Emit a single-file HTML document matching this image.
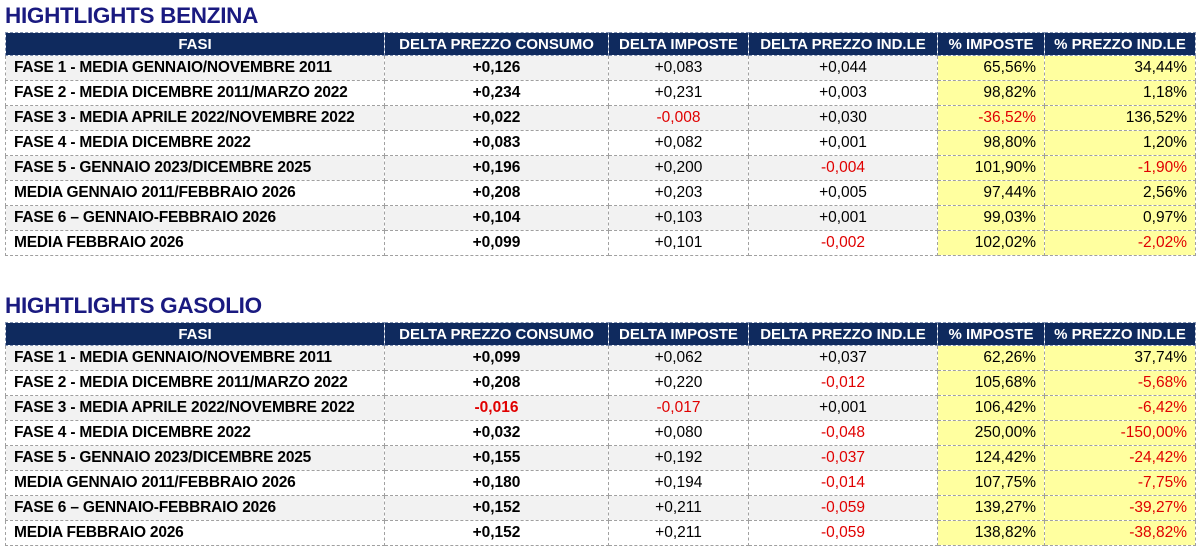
<!DOCTYPE html>
<html><head><meta charset="utf-8"><style>
body{margin:0;background:#fff;width:1200px;height:557px;overflow:hidden;font-family:"Liberation Sans",sans-serif;position:relative}
h1{position:absolute;left:5px;margin:0;font-size:22.5px;font-weight:bold;color:#1a1a80;letter-spacing:-0.3px;line-height:24px}
table{position:absolute;left:5px;border-collapse:collapse;table-layout:fixed;font-size:15.5px}
td,th{border:1px dashed #a0a0a0;padding:0 8px;white-space:nowrap;overflow:hidden;height:24px;box-sizing:border-box}
th{background:#0f2a5e;color:#fff;height:23px;text-align:center;font-size:15px;border-color:#8090b0}
td.l{font-weight:bold;text-align:left;letter-spacing:-0.2px}
td.c{text-align:center;font-weight:bold}
td.n{text-align:center}
td.y{background:#ffff9f;text-align:right}
tr.g td{background:#f2f2f2}
tr.g td.y{background:#ffff9f}
.r{color:#e00000}
</style></head><body>
<h1 style="top:4px">HIGHTLIGHTS BENZINA</h1>
<table style="top:32px;width:1190px">
<colgroup><col style="width:379px"><col style="width:224px"><col style="width:140px"><col style="width:189px"><col style="width:107px"><col style="width:151px"></colgroup>
<tr><th>FASI</th><th>DELTA PREZZO CONSUMO</th><th>DELTA IMPOSTE</th><th>DELTA PREZZO IND.LE</th><th>% IMPOSTE</th><th>% PREZZO IND.LE</th></tr>
<tr class="g" style="height:25px"><td class="l">FASE 1 - MEDIA GENNAIO/NOVEMBRE 2011</td><td class="c">+0,126</td><td class="n">+0,083</td><td class="n">+0,044</td><td class="y">65,56%</td><td class="y">34,44%</td></tr>
<tr style="height:25px"><td class="l">FASE 2 - MEDIA DICEMBRE 2011/MARZO 2022</td><td class="c">+0,234</td><td class="n">+0,231</td><td class="n">+0,003</td><td class="y">98,82%</td><td class="y">1,18%</td></tr>
<tr class="g" style="height:25px"><td class="l">FASE 3 - MEDIA APRILE 2022/NOVEMBRE 2022</td><td class="c">+0,022</td><td class="n r">-0,008</td><td class="n">+0,030</td><td class="y r">-36,52%</td><td class="y">136,52%</td></tr>
<tr style="height:25px"><td class="l">FASE 4 - MEDIA DICEMBRE 2022</td><td class="c">+0,083</td><td class="n">+0,082</td><td class="n">+0,001</td><td class="y">98,80%</td><td class="y">1,20%</td></tr>
<tr class="g" style="height:25px"><td class="l">FASE 5 - GENNAIO 2023/DICEMBRE 2025</td><td class="c">+0,196</td><td class="n">+0,200</td><td class="n r">-0,004</td><td class="y">101,90%</td><td class="y r">-1,90%</td></tr>
<tr style="height:25px"><td class="l">MEDIA GENNAIO 2011/FEBBRAIO 2026</td><td class="c">+0,208</td><td class="n">+0,203</td><td class="n">+0,005</td><td class="y">97,44%</td><td class="y">2,56%</td></tr>
<tr class="g" style="height:25px"><td class="l">FASE 6 – GENNAIO-FEBBRAIO 2026</td><td class="c">+0,104</td><td class="n">+0,103</td><td class="n">+0,001</td><td class="y">99,03%</td><td class="y">0,97%</td></tr>
<tr style="height:25px"><td class="l">MEDIA FEBBRAIO 2026</td><td class="c">+0,099</td><td class="n">+0,101</td><td class="n r">-0,002</td><td class="y">102,02%</td><td class="y r">-2,02%</td></tr>
</table>
<h1 style="top:294px">HIGHTLIGHTS GASOLIO</h1>
<table style="top:322px;width:1190px">
<colgroup><col style="width:379px"><col style="width:224px"><col style="width:140px"><col style="width:189px"><col style="width:107px"><col style="width:151px"></colgroup>
<tr><th>FASI</th><th>DELTA PREZZO CONSUMO</th><th>DELTA IMPOSTE</th><th>DELTA PREZZO IND.LE</th><th>% IMPOSTE</th><th>% PREZZO IND.LE</th></tr>
<tr class="g" style="height:25px"><td class="l">FASE 1 - MEDIA GENNAIO/NOVEMBRE 2011</td><td class="c">+0,099</td><td class="n">+0,062</td><td class="n">+0,037</td><td class="y">62,26%</td><td class="y">37,74%</td></tr>
<tr style="height:25px"><td class="l">FASE 2 - MEDIA DICEMBRE 2011/MARZO 2022</td><td class="c">+0,208</td><td class="n">+0,220</td><td class="n r">-0,012</td><td class="y">105,68%</td><td class="y r">-5,68%</td></tr>
<tr class="g" style="height:25px"><td class="l">FASE 3 - MEDIA APRILE 2022/NOVEMBRE 2022</td><td class="c r">-0,016</td><td class="n r">-0,017</td><td class="n">+0,001</td><td class="y">106,42%</td><td class="y r">-6,42%</td></tr>
<tr style="height:25px"><td class="l">FASE 4 - MEDIA DICEMBRE 2022</td><td class="c">+0,032</td><td class="n">+0,080</td><td class="n r">-0,048</td><td class="y">250,00%</td><td class="y r">-150,00%</td></tr>
<tr class="g" style="height:25px"><td class="l">FASE 5 - GENNAIO 2023/DICEMBRE 2025</td><td class="c">+0,155</td><td class="n">+0,192</td><td class="n r">-0,037</td><td class="y">124,42%</td><td class="y r">-24,42%</td></tr>
<tr style="height:25px"><td class="l">MEDIA GENNAIO 2011/FEBBRAIO 2026</td><td class="c">+0,180</td><td class="n">+0,194</td><td class="n r">-0,014</td><td class="y">107,75%</td><td class="y r">-7,75%</td></tr>
<tr class="g" style="height:25px"><td class="l">FASE 6 – GENNAIO-FEBBRAIO 2026</td><td class="c">+0,152</td><td class="n">+0,211</td><td class="n r">-0,059</td><td class="y">139,27%</td><td class="y r">-39,27%</td></tr>
<tr style="height:25px"><td class="l">MEDIA FEBBRAIO 2026</td><td class="c">+0,152</td><td class="n">+0,211</td><td class="n r">-0,059</td><td class="y">138,82%</td><td class="y r">-38,82%</td></tr>
</table>
</body></html>
